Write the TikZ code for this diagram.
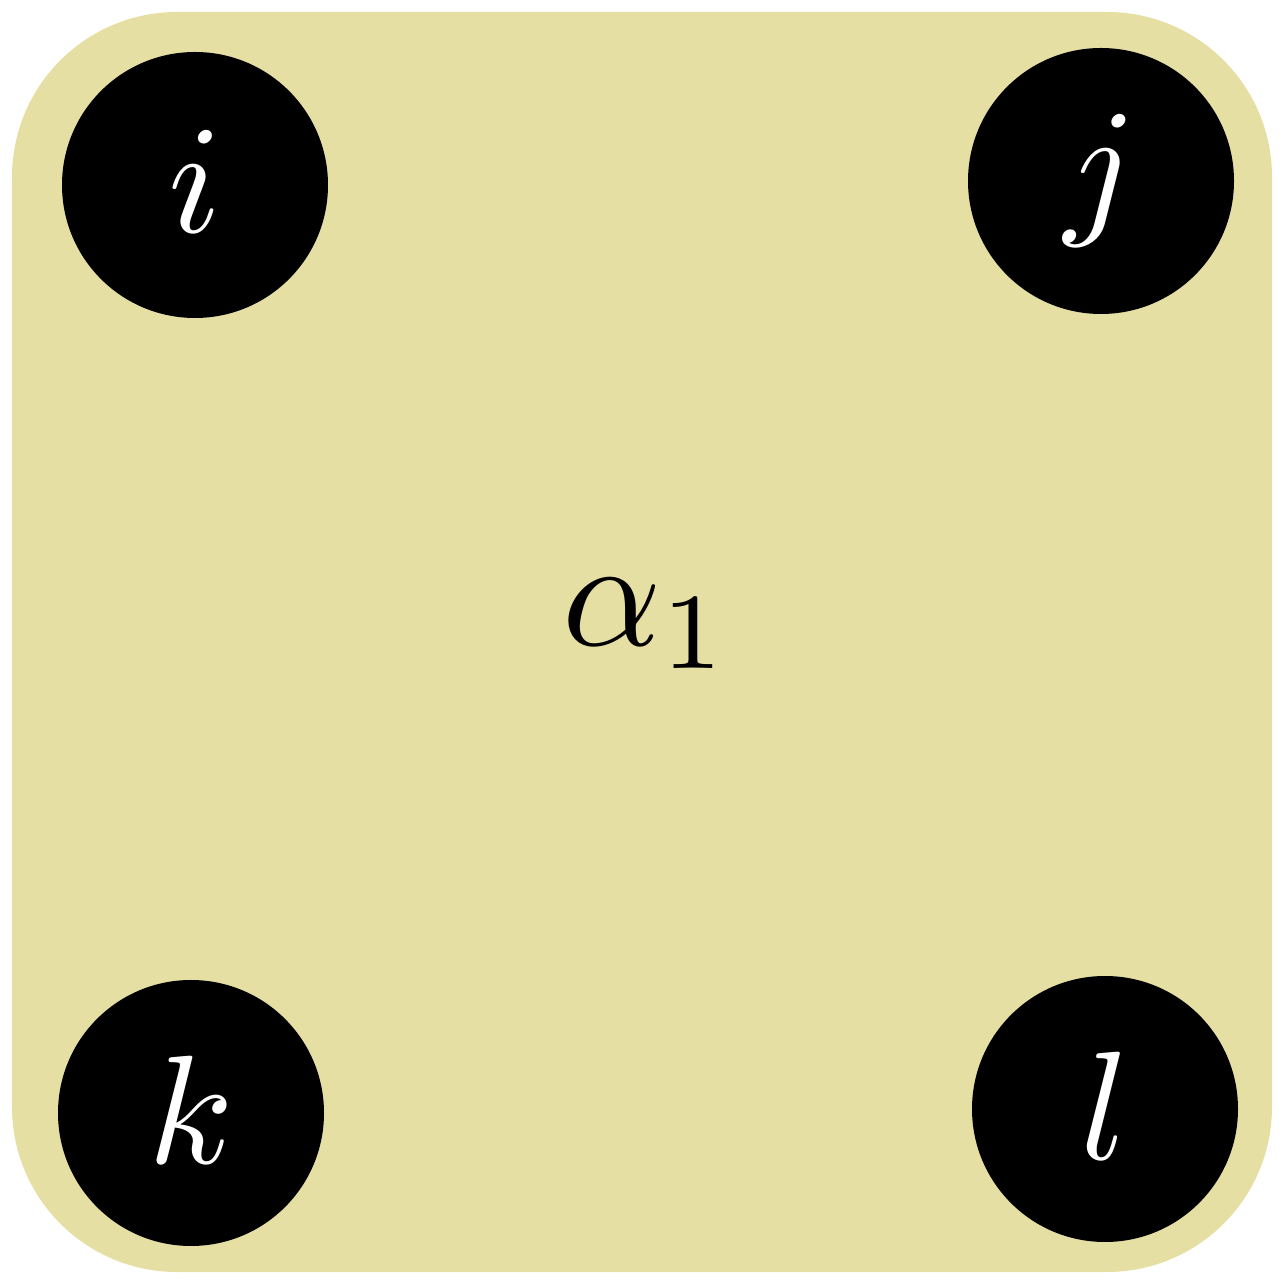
\documentclass[tikz,border=0pt]{standalone}
\usepackage{tikz}
\usetikzlibrary{positioning}

\definecolor{khaki}{RGB}{230,223,164}
\newcommand{\bigtxt}[1]{\scalebox{4.4}{$#1$}}

\begin{document}
\begin{tikzpicture}
\tikzstyle{vertex}=[circle,fill=black,text=white,minimum size=2.66cm,inner sep=0pt]

\useasboundingbox (0,0) rectangle (12.84,12.84);

%% Draw background block
\node [fill=khaki,rounded corners=1.65cm,minimum size=12.6cm,inner sep=0pt]
      (block) at (6.42,6.42) {};

%% Draw vertices in the corners
\node [vertex] (i) at (1.95,10.99) {\raisebox{0.06cm}{\bigtxt{i}}};
\node [vertex] (j) at (11.01,11.03) {\raisebox{0.06cm}{\bigtxt{j}}};
\node [vertex] (k) at (1.91,1.71) {\raisebox{0.06cm}{\bigtxt{k}}};
\node [vertex] (l) at (11.05,1.75) {\raisebox{0.06cm}{\bigtxt{l}}};

% Label of the block
\node (alpha) at (6.47,6.6) {\bigtxt{\alpha_1}};

\end{tikzpicture}
\end{document}
